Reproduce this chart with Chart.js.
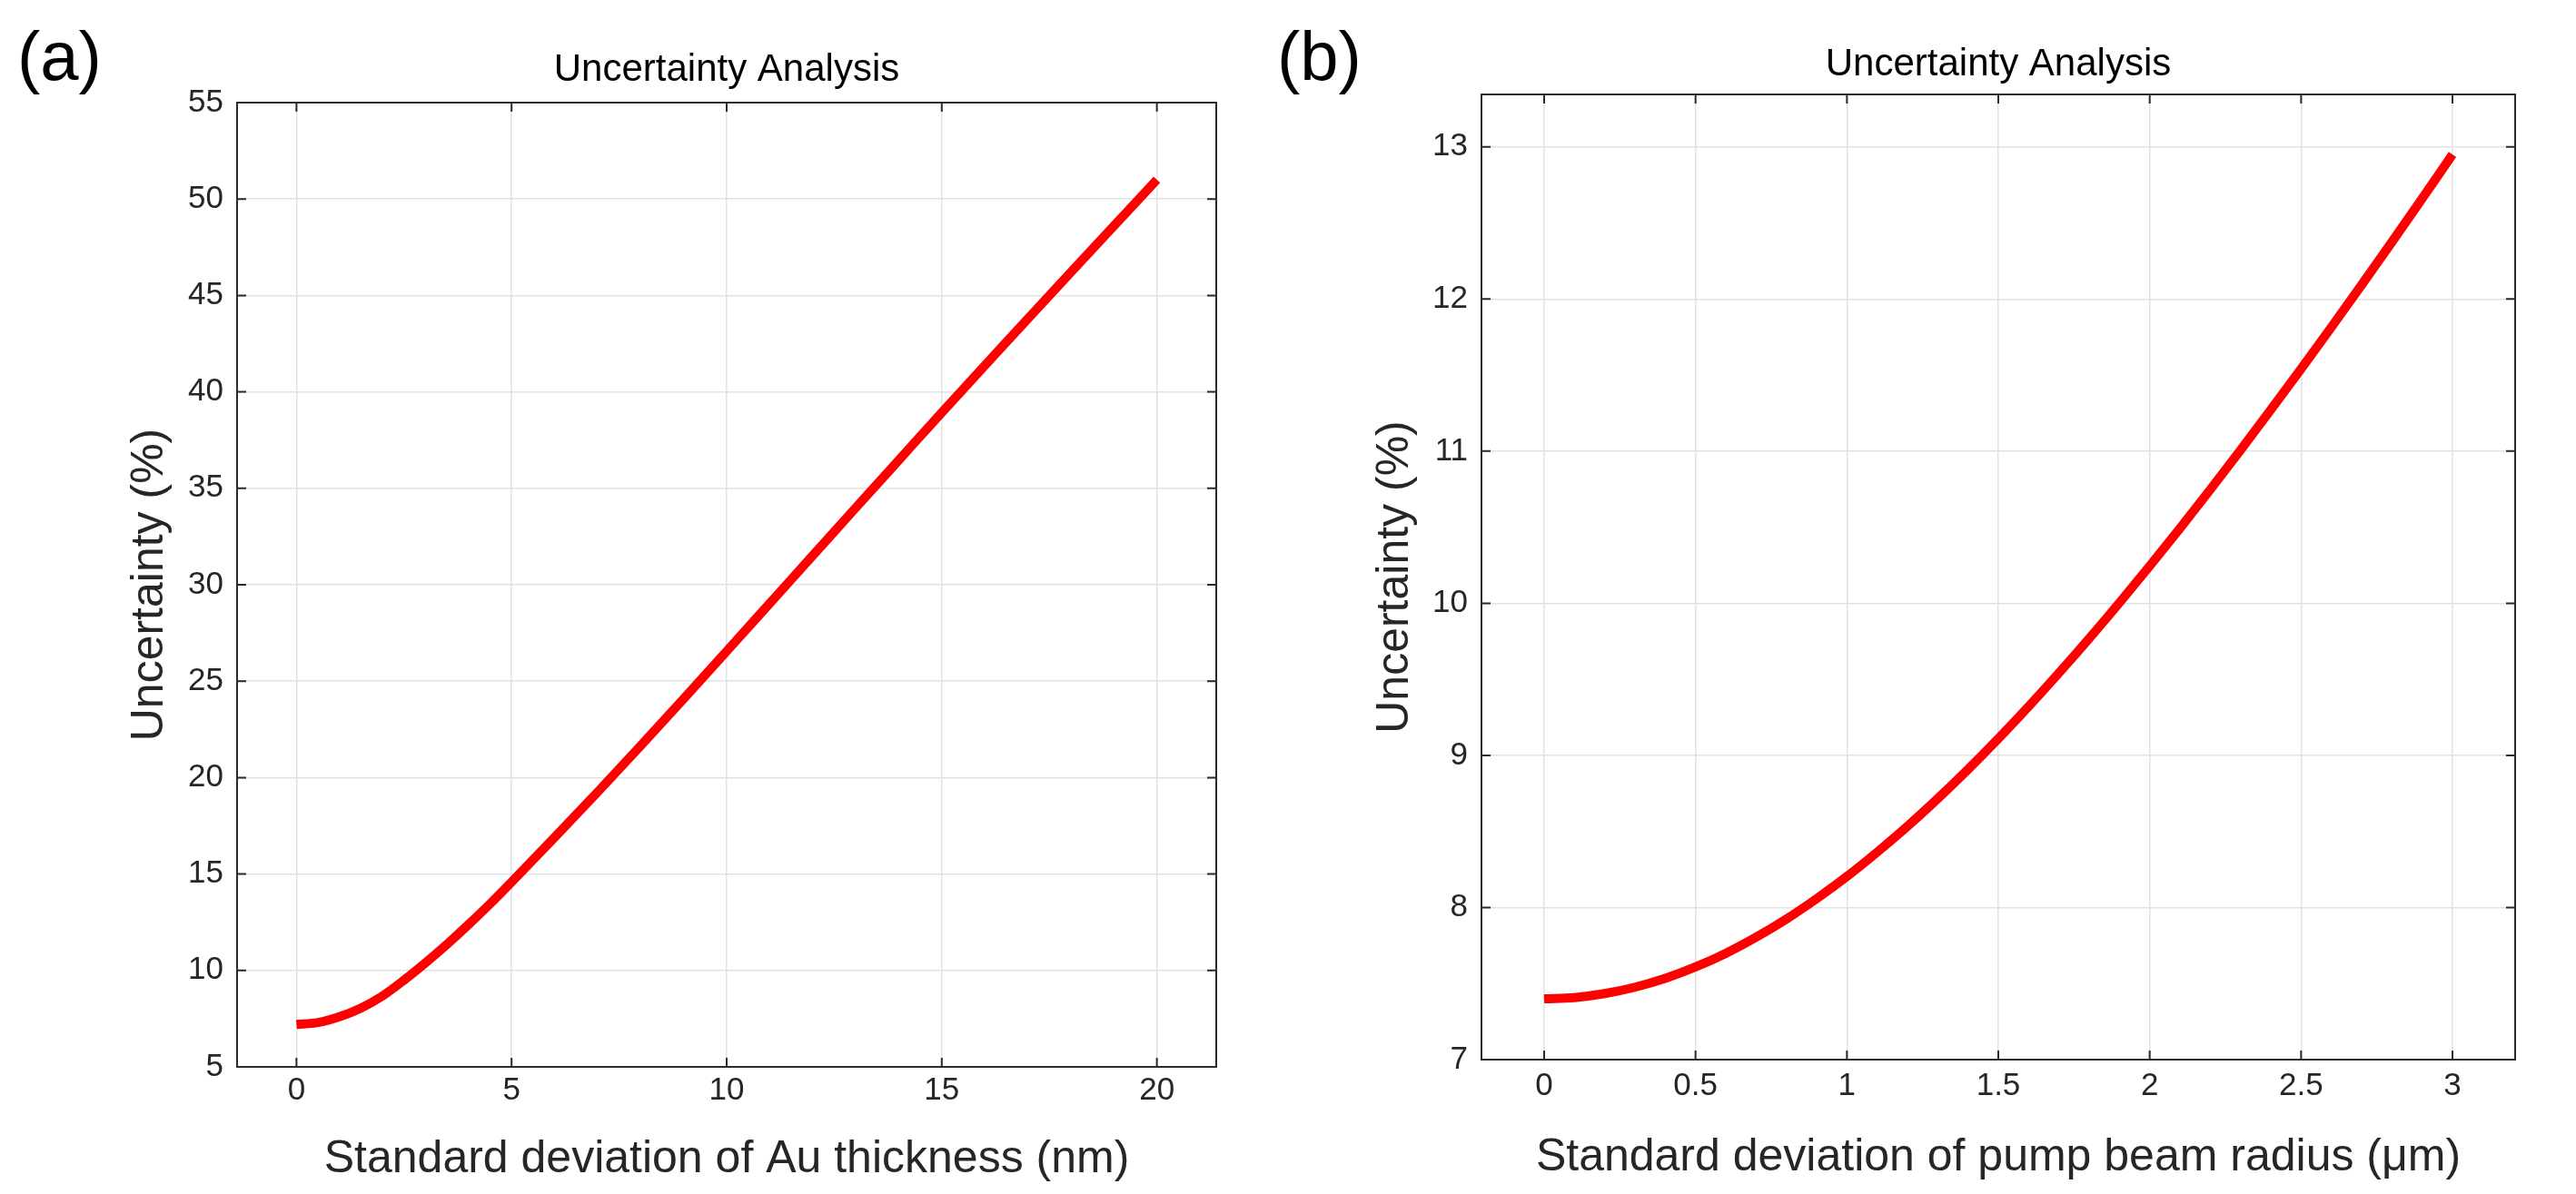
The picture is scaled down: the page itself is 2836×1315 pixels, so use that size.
<!DOCTYPE html>
<html><head><meta charset="utf-8">
<script src="https://cdn.jsdelivr.net/npm/chart.js@4.4.1/dist/chart.umd.min.js"></script>
<style>
html,body{margin:0;padding:0;background:#fff;width:2836px;height:1315px;overflow:hidden;}
canvas{position:absolute;top:0;}
#ca{left:0;} #cb{left:1400px;}
.tag{position:absolute;font-family:'Liberation Sans',Arial,sans-serif;font-size:76px;line-height:1;color:#000;}
</style></head><body>
<canvas id="ca" width="1400" height="1315"></canvas>
<canvas id="cb" width="1436" height="1315"></canvas>
<div class="tag" style="left:19px;top:24px">(a)</div>
<div class="tag" style="left:1406px;top:24px">(b)</div>
<script>
// ---- data ----
const xA = [0,0.5,1,1.5,2,2.5,3,3.5,4,4.5,5,6,7,8,9,10,11,12,13,14,15,16,17,18,19,20];
const yA = [7.2,7.3,7.6,8.05,8.68,9.5,10.4,11.36,12.38,13.45,14.58,16.9,19.25,21.65,24.08,26.55,29.03,31.51,33.99,36.46,38.93,41.36,43.79,46.2,48.6,51.0];
const xB = [0,0.1,0.2,0.3,0.4,0.5,0.6,0.7,0.8,0.9,1.0,1.1,1.2,1.3,1.4,1.5,1.6,1.7,1.8,1.9,2.0,2.1,2.2,2.3,2.4,2.5,2.6,2.7,2.8,2.9,3.0];
const yB = [7.400,7.408,7.434,7.476,7.534,7.609,7.699,7.805,7.924,8.058,8.204,8.364,8.534,8.716,8.908,9.110,9.321,9.541,9.768,10.003,10.245,10.493,10.747,11.007,11.272,11.541,11.815,12.093,12.375,12.661,12.950];

const xTicksA = [0,5,10,15,20];
const xTickLabelsA = ['0','5','10','15','20'];
const yTicksA = [5,10,15,20,25,30,35,40,45,50,55];
const yTickLabelsA = ['5','10','15','20','25','30','35','40','45','50','55'];
const xTicksB = [0,0.5,1,1.5,2,2.5,3];
const xTickLabelsB = ['0','0.5','1','1.5','2','2.5','3'];
const yTicksB = [7,8,9,10,11,12,13];
const yTickLabelsB = ['7','8','9','10','11','12','13'];

const titleText = 'Uncertainty Analysis';
const xTitleA = 'Standard deviation of Au thickness (nm)';
const xTitleB = 'Standard deviation of pump beam radius (\u03bcm)';
const yTitle = 'Uncertainty (%)';

const FONT = "'Liberation Sans', Arial, Helvetica, sans-serif";
const TXT = '#262626';
const GRID = '#e2e2e2';

const boxPlugin = {
  id: 'boxTicks',
  afterDatasetsDraw(chart) {
    const {ctx, chartArea: {left, right, top, bottom}} = chart;
    const xs = chart.scales.x, ys = chart.scales.y;
    const L = 10;
    ctx.save();
    ctx.strokeStyle = '#2b2b2b';
    ctx.lineWidth = 2;
    ctx.strokeRect(left, top, right - left, bottom - top);
    ctx.beginPath();
    xs.ticks.forEach(t => {
      const p = xs.getPixelForValue(t.value);
      ctx.moveTo(p, bottom); ctx.lineTo(p, bottom - L);
      ctx.moveTo(p, top); ctx.lineTo(p, top + L);
    });
    ys.ticks.forEach(t => {
      const p = ys.getPixelForValue(t.value);
      ctx.moveTo(left, p); ctx.lineTo(left + L, p);
      ctx.moveTo(right, p); ctx.lineTo(right - L, p);
    });
    ctx.stroke();
    ctx.restore();
  }
};

function makeChart(id, cfg) {
  const data = cfg.xs.map((x, i) => ({x: x, y: cfg.ys[i]}));
  return new Chart(document.getElementById(id), {
    type: 'line',
    data: { datasets: [{ data: data, borderColor: '#ff0000', borderWidth: 10,
      pointRadius: 0, cubicInterpolationMode: 'monotone', borderCapStyle: 'butt', fill: false }] },
    options: {
      responsive: false, animation: false, devicePixelRatio: 1,
      layout: { padding: { left: 0, right: cfg.padRight, top: 0, bottom: 0 } },
      plugins: {
        legend: { display: false }, tooltip: { enabled: false },
        title: { display: true, text: titleText, fullSize: false, color: '#000',
          font: { family: FONT, size: 42, weight: 'normal', lineHeight: 1.2 },
          padding: { top: cfg.titleTop, bottom: cfg.titleBottom } }
      },
      scales: {
        x: {
          type: 'linear', min: cfg.xmin, max: cfg.xmax,
          afterBuildTicks: s => { s.ticks = cfg.xTicks.map(v => ({value: v})); },
          afterFit: s => { s.height = cfg.xAxisH; },
          grid: { color: GRID, lineWidth: 1.5, drawTicks: false },
          border: { display: false },
          ticks: { padding: cfg.xTickPad, color: TXT, autoSkip: false, maxRotation: 0,
            font: { family: FONT, size: 35 }, callback: (v, i) => cfg.xLabels[i] },
          title: { display: true, text: cfg.xTitle, color: TXT,
            font: { family: FONT, size: 50, lineHeight: 1.2 }, padding: { top: 0, bottom: cfg.xTitlePad } }
        },
        y: {
          type: 'linear', min: cfg.ymin, max: cfg.ymax,
          afterBuildTicks: s => { s.ticks = cfg.yTicks.map(v => ({value: v})); },
          afterFit: s => { s.width = cfg.yAxisW; },
          grid: { color: GRID, lineWidth: 1.5, drawTicks: false },
          border: { display: false },
          ticks: { padding: 15, color: TXT, autoSkip: false,
            font: { family: FONT, size: 35 }, callback: (v, i) => cfg.yLabels[i] },
          title: { display: true, text: yTitle, color: TXT,
            font: { family: FONT, size: 50, lineHeight: 1.2 }, padding: { top: cfg.yTitlePad, bottom: 0 } }
        }
      }
    },
    plugins: [boxPlugin]
  });
}

makeChart('ca', {
  xs: xA, ys: yA, xTicks: xTicksA, xLabels: xTickLabelsA, yTicks: yTicksA, yLabels: yTickLabelsA,
  xmin: -1.38, xmax: 21.38, ymin: 5, ymax: 55, xTitle: xTitleA,
  padRight: 61, yAxisW: 261, xAxisH: 140, titleTop: 52, titleBottom: 10.6,
  xTickPad: 5, xTitlePad: 8, yTitlePad: 135
});
makeChart('cb', {
  xs: xB, ys: yB, xTicks: xTicksB, xLabels: xTickLabelsB, yTicks: yTicksB, yLabels: yTickLabelsB,
  xmin: -0.207, xmax: 3.207, ymin: 7, ymax: 13.345, xTitle: xTitleB,
  padRight: 67, yAxisW: 231, xAxisH: 148, titleTop: 46, titleBottom: 7.6,
  xTickPad: 8, xTitlePad: 10, yTitlePad: 106
});
</script>
</body></html>
